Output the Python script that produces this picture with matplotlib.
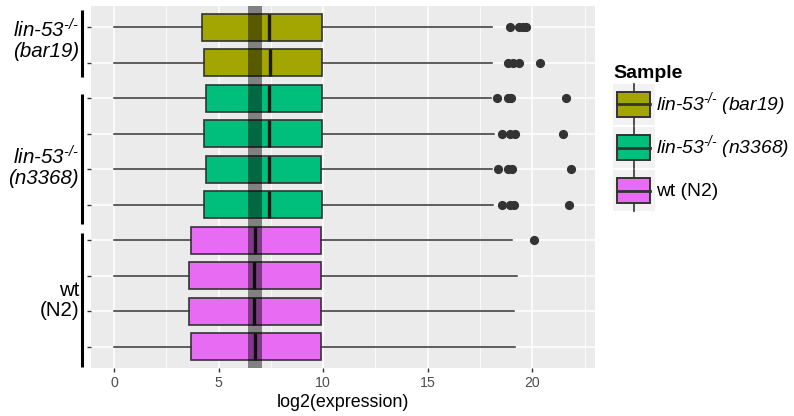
import matplotlib
matplotlib.use('Agg')
import matplotlib.pyplot as plt
from matplotlib.patches import Rectangle
from matplotlib.lines import Line2D
from matplotlib.legend_handler import HandlerBase
from matplotlib.ticker import MultipleLocator

plt.rcParams['font.family'] = ['Liberation Sans', 'DejaVu Sans']
plt.rcParams['mathtext.fontset'] = 'custom'
plt.rcParams['mathtext.rm'] = 'Liberation Sans:italic'
plt.rcParams['mathtext.it'] = 'Liberation Sans:italic'

# ---------------- data ----------------
sample_of_row = ['bar19', 'bar19', 'n3368', 'n3368', 'n3368', 'n3368',
                 'wt', 'wt', 'wt', 'wt']
q1 = [4.23, 4.31, 4.38, 4.31, 4.38, 4.31, 3.69, 3.58, 3.58, 3.69]
med = [7.40, 7.45, 7.40, 7.40, 7.40, 7.40, 6.76, 6.70, 6.70, 6.76]
q3 = [9.96, 9.96, 9.94, 9.94, 9.91, 9.96, 9.91, 9.91, 9.91, 9.91]
whislo = [0, 0, 0, 0, 0, 0, 0, 0, 0, 0]
whishi = [18.07, 18.07, 18.03, 18.15, 18.06, 18.11, 19.01, 19.25, 19.14, 19.17]
fliers = [
    [18.95, 19.38, 19.54, 19.70],
    [18.82, 19.06, 19.35, 20.37],
    [18.30, 18.82, 18.98, 21.61],
    [18.54, 18.93, 19.19, 21.48],
    [18.35, 18.82, 19.01, 21.85],
    [18.54, 18.93, 19.14, 21.77],
    [20.10],
    [],
    [],
    [],
]
band = (6.40, 7.08)

samples = ['bar19', 'n3368', 'wt']
sample_colors = {'bar19': '#A3A500', 'n3368': '#00BF7D', 'wt': '#E76BF3'}
legend_labels = ['lin-53$^{\\text{-/-}}$ (bar19)',
                 'lin-53$^{\\text{-/-}}$ (n3368)',
                 'wt (N2)']
legend_italic = [True, True, False]
group_labels = ['lin-53$^{\\text{-/-}}$\n(bar19)',
                'lin-53$^{\\text{-/-}}$\n(n3368)',
                'wt\n(N2)']
group_spans = [(-0.48, 1.40), (1.88, 5.53), (5.79, 9.58)]
group_label_y = [0.34, 3.93, 7.70]

# ---------------- figure ----------------
W, H = 794, 416
fig = plt.figure(figsize=(W / 100, H / 100), dpi=100)
ax = fig.add_axes([91 / W, 1 - 368 / H, (595 - 91) / W, (368 - 6) / H])
ax.set_facecolor('#EBEBEB')
for s in ax.spines.values():
    s.set_visible(False)

n = len(q1)
positions = list(range(n))
stats = []
for i in range(n):
    stats.append(dict(q1=q1[i], med=med[i], q3=q3[i], whislo=whislo[i],
                      whishi=whishi[i], fliers=fliers[i]))

edge = '#333333'
bp = ax.bxp(stats, positions=positions, orientation='horizontal', widths=0.75,
            patch_artist=True, showcaps=False,
            boxprops=dict(edgecolor=edge, linewidth=1.2),
            whiskerprops=dict(color=edge, linewidth=1.1),
            medianprops=dict(color='#1a1a1a', linewidth=2.4),
            flierprops=dict(marker='o', markerfacecolor=edge, markeredgecolor=edge,
                            markersize=5.6, linestyle='none'))
for i, b in enumerate(bp['boxes']):
    b.set_facecolor(sample_colors[sample_of_row[i]])
for art in bp['boxes'] + bp['whiskers'] + bp['medians'] + bp['fliers']:
    art.set_zorder(3)

ax.axvspan(band[0], band[1], color='black', alpha=0.45, lw=0, zorder=5)

ax.set_xlim(-1.095, 22.995)
ax.set_ylim(n - 1 + 0.6, -0.6)
ax.xaxis.set_major_locator(MultipleLocator(5))
ax.xaxis.set_minor_locator(MultipleLocator(2.5))
ax.set_xticks([0, 5, 10, 15, 20])
ax.set_yticks(positions)
ax.set_yticklabels([])
ax.grid(which='major', color='white', linewidth=1.1, zorder=0)
ax.grid(which='minor', axis='x', color='white', linewidth=0.55, zorder=0)
ax.set_axisbelow(True)
ax.tick_params(axis='both', which='major', length=3, width=1.0, color='#333333',
               labelcolor='#4D4D4D', labelsize=10.2, pad=2.5)
ax.tick_params(axis='x', which='minor', length=0)
ax.set_xlabel('log2(expression)', fontsize=12.9, color='black', labelpad=3)

# group annotations on the left
ytr = ax.get_yaxis_transform()
bar_x = (82 - 91) / 504
lab_x = (79 - 91) / 504
for (y0, y1), lab, ly, it in zip(group_spans, group_labels, group_label_y, legend_italic):
    ax.plot([bar_x, bar_x], [y0, y1], color='black', lw=2.2, transform=ytr,
            clip_on=False, solid_capstyle='butt')
    ax.text(lab_x, ly, lab, transform=ytr, ha='right', va='center',
            multialignment='right', fontsize=14.8, linespacing=1.05,
            fontstyle='italic' if it else 'normal', color='black')


# legend
class BoxKey(HandlerBase):
    def create_artists(self, legend, orig_handle, xdescent, ydescent,
                       width, height, fontsize, trans):
        x0, y0 = -xdescent, -ydescent
        bg = Rectangle((x0, y0), width, height, fc='#F2F2F2', ec='none',
                       transform=trans)
        cx = x0 + width / 2
        wl = Line2D([cx, cx], [y0, y0 + height], color=edge, lw=1.2,
                    transform=trans)
        bx = Rectangle((x0 + width * 0.1, y0 + height * 0.2), width * 0.8,
                       height * 0.6, fc=orig_handle.get_facecolor(), ec=edge,
                       lw=1.4, transform=trans)
        ml = Line2D([x0 + width * 0.1, x0 + width * 0.9],
                    [y0 + height / 2] * 2, color=edge, lw=2.0, transform=trans)
        return [bg, wl, bx, ml]


handles = [Rectangle((0, 0), 1, 1, fc=sample_colors[s]) for s in samples]
leg = fig.legend(handles, legend_labels, handler_map={Rectangle: BoxKey()},
                 loc='upper left', bbox_to_anchor=(613 / W, 1 - 65 / H),
                 bbox_transform=fig.transFigure, frameon=False,
                 fontsize=13.9, title='Sample',
                 title_fontproperties={'weight': 'bold', 'size': 14.0},
                 alignment='left', handlelength=2.15, handleheight=2.9,
                 handletextpad=0.08, labelspacing=0.1, borderpad=0,
                 borderaxespad=0)
for t, it in zip(leg.get_texts(), legend_italic):
    if it:
        t.set_fontstyle('italic')

fig.savefig('out.png', dpi=100)
